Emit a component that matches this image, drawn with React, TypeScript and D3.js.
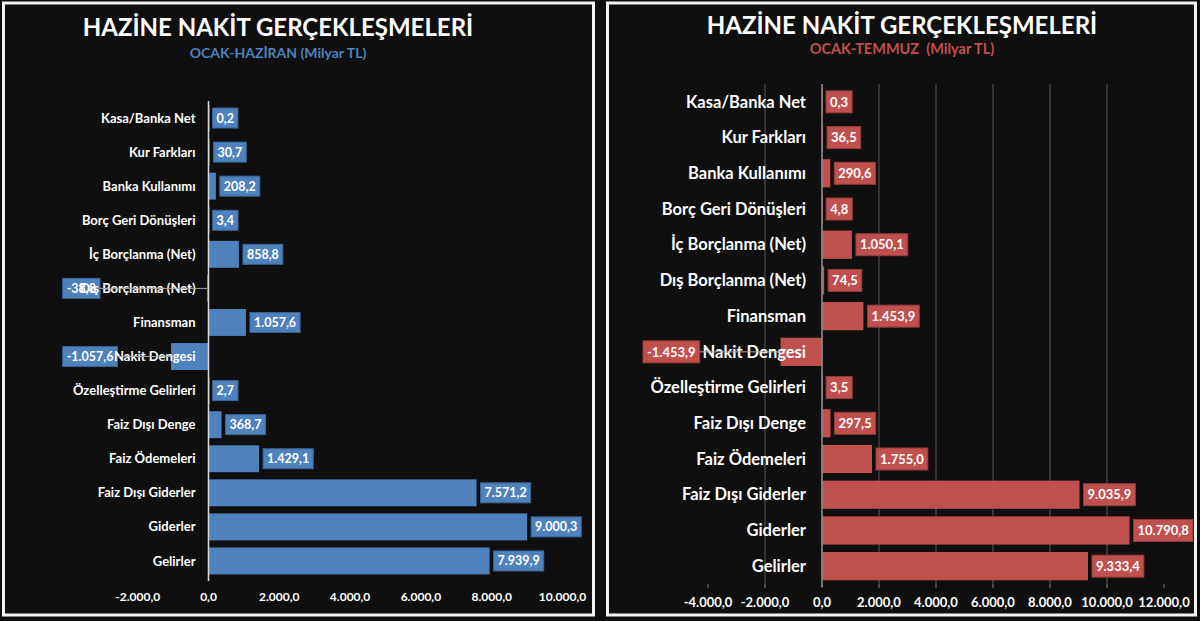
import React from "react";
import * as d3 from "d3";

const categories = [
  "Kasa/Banka Net",
  "Kur Farkları",
  "Banka Kullanımı",
  "Borç Geri Dönüşleri",
  "İç Borçlanma (Net)",
  "Dış Borçlanma (Net)",
  "Finansman",
  "Nakit Dengesi",
  "Özelleştirme Gelirleri",
  "Faiz Dışı Denge",
  "Faiz Ödemeleri",
  "Faiz Dışı Giderler",
  "Giderler",
  "Gelirler",
];

const valuesHaziran = [0.2, 30.7, 208.2, 3.4, 858.8, -38.8, 1057.6, -1057.6, 2.7, 368.7, 1429.1, 7571.2, 9000.3, 7939.9];
const valuesTemmuz = [0.3, 36.5, 290.6, 4.8, 1050.1, 74.5, 1453.9, -1453.9, 3.5, 297.5, 1755.0, 9035.9, 10790.8, 9333.4];

const ticksHaziran = [-2000, 0, 2000, 4000, 6000, 8000, 10000];
const ticksTemmuz = [-4000, -2000, 0, 2000, 4000, 6000, 8000, 10000, 12000];

const title = "HAZİNE NAKİT GERÇEKLEŞMELERİ";
const subHaziran = "OCAK-HAZİRAN (Milyar TL)";
const subTemmuz = "OCAK-TEMMUZ  (Milyar TL)";

const trLocale = d3.formatLocale({
  decimal: ",",
  thousands: ".",
  grouping: [3],
  currency: ["", " TL"],
  minus: "-",
});
const fmt = trLocale.format(",.1f");

const FONT = "Lato, 'Open Sans', sans-serif";

let ctx: CanvasRenderingContext2D | null = null;
function measure(text: string, size: number, weight = "bold") {
  if (!ctx) {
    const c = document.createElement("canvas");
    ctx = c.getContext("2d");
  }
  if (!ctx) return text.length * size * 0.55;
  ctx.font = `${weight} ${size}px Lato`;
  return ctx.measureText(text).width;
}

type PanelProps = {
  px: number;
  pw: number;
  titleY: number;
  titleSize: number;
  subtitle: string;
  subY: number;
  subSize: number;
  color: string;
  stroke: string;
  values: number[];
  ticks: number[];
  xRange: [number, number];
  yRange: [number, number];
  padding: number;
  catSize: number;
  catGap: number;
  lblSize: number;
  lblH: number;
  tickY: number;
  tickSize: number;
  grid: boolean;
  axisColor: string;
  negLabelOffset: number;
  center: number;
};

function Panel(p: PanelProps) {
  const x = d3.scaleLinear().domain([p.ticks[0], p.ticks[p.ticks.length - 1]]).range(p.xRange);
  const y = d3.scaleBand<string>().domain(categories).range(p.yRange).paddingInner(p.padding).paddingOuter(p.padding / 2);
  const x0 = x(0);
  const bw = y.bandwidth();
  const labels = p.values.map((v, i) => {
    const t = fmt(v);
    const w = measure(t, p.lblSize) + 8;
    const cy = (y(categories[i]) as number) + bw / 2;
    let bx: number;
    if (v >= 0) bx = x(v) + 4;
    else bx = x(p.ticks[0]) + p.negLabelOffset;
    return { t, w, cy, bx, v };
  });
  return (
    <g>
      <rect x={p.px} y={3} width={p.pw} height={612} fill="#0f0f0f" stroke="#f4f4f4" strokeWidth={3} />
      <text x={p.center} y={p.titleY} textAnchor="middle" fill="#ffffff" fontFamily={FONT} fontWeight="bold" fontSize={p.titleSize}>
        {title}
      </text>
      <text
        x={p.center}
        y={p.subY}
        textAnchor="middle"
        fill={p.color}
        fontFamily={FONT}
        fontWeight="bold"
        fontSize={p.subSize}
        style={{ whiteSpace: "pre" }}
      >
        {p.subtitle}
      </text>
      {p.grid &&
        p.ticks.slice(1, -1).map((t) => (
          <line key={"g" + t} x1={x(t)} x2={x(t)} y1={p.yRange[0]} y2={p.yRange[1]} stroke="#595959" strokeWidth={1} />
        ))}
      {p.grid &&
        p.ticks.map((t) => (
          <line key={"tk" + t} x1={x(t)} x2={x(t)} y1={p.yRange[1]} y2={p.yRange[1] + 4} stroke="#7f7f7f" strokeWidth={1} />
        ))}
      {p.values.map((v, i) => (
        <rect
          key={"b" + i}
          x={Math.min(x(v), x0)}
          y={y(categories[i])}
          width={Math.max(Math.abs(x(v) - x0), 1)}
          height={bw}
          fill={p.color}
        />
      ))}
      <line x1={x0} x2={x0} y1={p.yRange[0]} y2={p.yRange[1] + 3} stroke={p.axisColor} strokeWidth={1.5} />
      {labels.map((l, i) => (
        <rect key={"lb" + i} x={l.bx} y={l.cy - p.lblH / 2} width={l.w} height={p.lblH} fill={p.color} stroke={p.stroke} strokeWidth={1} />
      ))}
      {categories.map((c, i) => (
        <text
          key={"c" + i}
          x={x0 - p.catGap}
          y={(y(c) as number) + bw / 2}
          dy="0.35em"
          textAnchor="end"
          fill="#ffffff"
          fontFamily={FONT}
          fontWeight="bold"
          fontSize={p.catSize}
        >
          {c}
        </text>
      ))}
      {labels
        .filter((l) => l.v < 0)
        .map((l, i) => (
          <line key={"ll" + i} x1={l.bx + l.w} x2={x(l.v)} y1={l.cy} y2={l.cy} stroke="#a6a6a6" strokeWidth={1} />
        ))}
      {labels.map((l, i) => (
        <text
          key={"lt" + i}
          x={l.bx + l.w / 2}
          y={l.cy}
          dy="0.36em"
          textAnchor="middle"
          fill="#ffffff"
          fontFamily={FONT}
          fontWeight="bold"
          fontSize={p.lblSize}
        >
          {l.t}
        </text>
      ))}
      {p.ticks.map((t) => (
        <text
          key={"t" + t}
          x={x(t)}
          y={p.tickY}
          dy="0.35em"
          textAnchor="middle"
          fill="#ffffff"
          fontFamily={FONT}
          fontWeight="bold"
          fontSize={p.tickSize}
        >
          {fmt(t)}
        </text>
      ))}
    </g>
  );
}

export default function App() {
  return (
    <div style={{ position: "fixed", left: 0, top: 0, width: 1200, height: 621, background: "#0d0d0d" }}>
      <svg width={1200} height={621} style={{ display: "block" }}>
        <rect x={0} y={0} width={1200} height={621} fill="#0d0d0d" />
        <Panel
          px={3.5}
          pw={590}
          center={278}
          titleY={36}
          titleSize={24}
          subtitle={subHaziran}
          subY={58}
          subSize={14}
          color="#4f81bd"
          stroke="#3b6494"
          values={valuesHaziran}
          ticks={ticksHaziran}
          xRange={[137.7, 562.5]}
          yRange={[101, 578]}
          padding={0.21}
          catSize={13}
          catGap={13}
          lblSize={12.5}
          lblH={20}
          tickY={597}
          tickSize={12}
          grid={false}
          axisColor="#d9d9d9"
          negLabelOffset={-75}
        />
        <Panel
          px={607.5}
          pw={588}
          center={902}
          titleY={34}
          titleSize={24}
          subtitle={subTemmuz}
          subY={54}
          subSize={14.5}
          color="#c0504d"
          stroke="#943c3a"
          values={valuesTemmuz}
          ticks={ticksTemmuz}
          xRange={[708, 1164]}
          yRange={[84, 584]}
          padding={0.21}
          catSize={16.5}
          catGap={16}
          lblSize={13}
          lblH={22}
          tickY={602}
          tickSize={13}
          grid={true}
          axisColor="#8c8c8c"
          negLabelOffset={-65}
        />
      </svg>
    </div>
  );
}
